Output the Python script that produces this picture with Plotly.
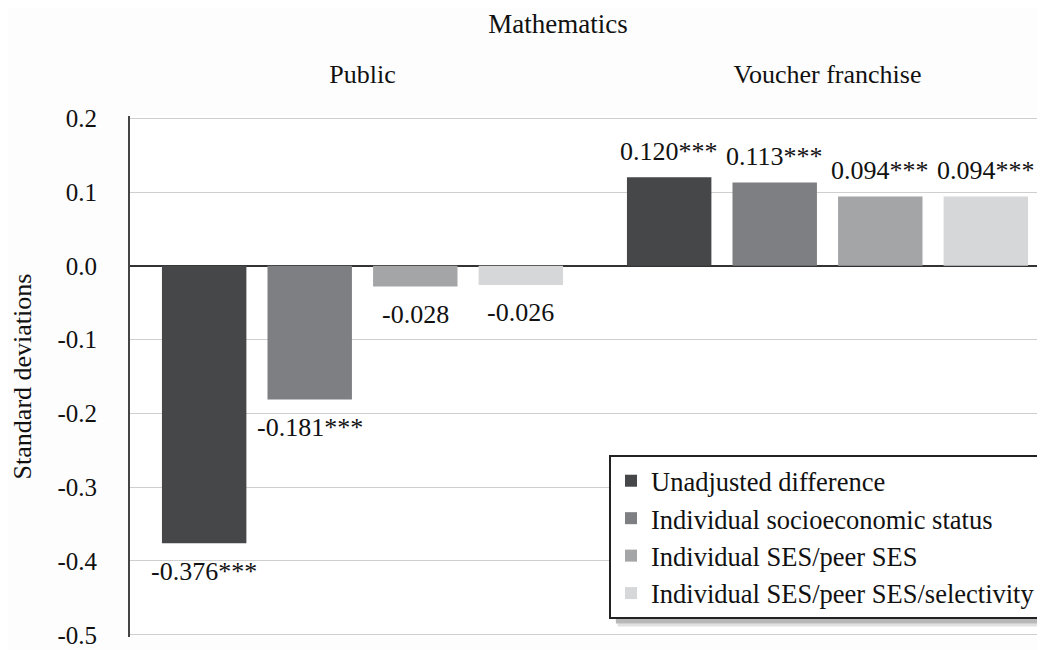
import plotly.graph_objects as go

# data
groups = ["Public", "Voucher franchise"]
series_names = [
    "Unadjusted difference",
    "Individual socioeconomic status",
    "Individual SES/peer SES",
    "Individual SES/peer SES/selectivity",
]
values = [
    [-0.376, 0.120],
    [-0.181, 0.113],
    [-0.028, 0.094],
    [-0.026, 0.094],
]
labels = [
    ["-0.376***", "0.120***"],
    ["-0.181***", "0.113***"],
    ["-0.028", "0.094***"],
    ["-0.026", "0.094***"],
]
y_ticks = [0.2, 0.1, 0.0, -0.1, -0.2, -0.3, -0.4, -0.5]
y_ticktext = ["0.2", "0.1", "0.0", "-0.1", "-0.2", "-0.3", "-0.4", "-0.5"]
colors = ["#464749", "#7e7f82", "#a4a5a7", "#d6d7d9"]

FONT = "Liberation Serif, Times New Roman, serif"
BARGAP = 0.092
BARGROUPGAP = 0.2
# the html page has an 8px body margin, so the figure is 8px smaller
W, H = 1037, 642

fig = go.Figure()
for i, name in enumerate(series_names):
    fig.add_trace(go.Bar(
        x=groups, y=values[i], name=name,
        marker=dict(color=colors[i], line=dict(width=0)),
        legendgroup=name,
    ))

# value labels placed just beyond each bar end
slot = (1 - BARGAP) / len(series_names)
for i in range(len(series_names)):
    for g in range(len(groups)):
        v = values[i][g]
        fig.add_annotation(
            x=g + (i - (len(series_names) - 1) / 2) * slot, y=v,
            xref="x", yref="y", text=labels[i][g], showarrow=False,
            yshift=26 if v > 0 else -28,
            font=dict(family=FONT, size=26, color="#111"),
        )

# drop shadow under the legend box
fig.add_shape(type="rect", xref="paper", yref="paper",
              x0=0.531, x1=1.0, y0=0.026, y1=0.038,
              fillcolor="rgba(0,0,0,0.28)", line=dict(width=0), layer="above")
fig.add_shape(type="rect", xref="paper", yref="paper",
              x0=0.533, x1=1.0, y0=0.020, y1=0.026,
              fillcolor="rgba(0,0,0,0.12)", line=dict(width=0), layer="above")

fig.update_layout(
    width=W, height=H,
    margin=dict(l=122, r=0, t=108, b=13),
    paper_bgcolor="#fdfdfd", plot_bgcolor="white",
    font=dict(family=FONT, color="#111"),
    title=dict(text="Mathematics", x=550 / W, xanchor="center",
               y=1 - 16 / H, yanchor="middle",
               font=dict(family=FONT, size=27, color="#111")),
    barmode="group", bargap=BARGAP, bargroupgap=BARGROUPGAP,
    showlegend=True,
    legend=dict(x=(609 - 130) / 915, xanchor="left",
                y=(637 - 455) / 521, yanchor="top",
                bgcolor="white", bordercolor="#222", borderwidth=2,
                font=dict(family=FONT, size=26.5, color="#111"),
                traceorder="grouped", tracegroupgap=0),
)
fig.update_xaxes(side="top", range=[-0.5, 1.5 - 15 / 465], automargin=False,
                 showgrid=False, showline=False, ticks="",
                 ticklabelstandoff=27,
                 tickfont=dict(family=FONT, size=26, color="#111"))
fig.update_yaxes(range=[-0.503, 0.203], tickvals=y_ticks, ticktext=y_ticktext,
                 automargin=False, ticklabeloverflow="allow",
                 showgrid=True, gridcolor="#cfcfcf", gridwidth=1,
                 zeroline=True, zerolinecolor="#333", zerolinewidth=2,
                 showline=True, linecolor="#444", linewidth=2,
                 ticks="", ticklabelstandoff=26,
                 tickfont=dict(family=FONT, size=25, color="#111"),
                 title=dict(text="Standard deviations", standoff=19,
                            font=dict(family=FONT, size=26, color="#111")))

fig.write_html("out.html")
